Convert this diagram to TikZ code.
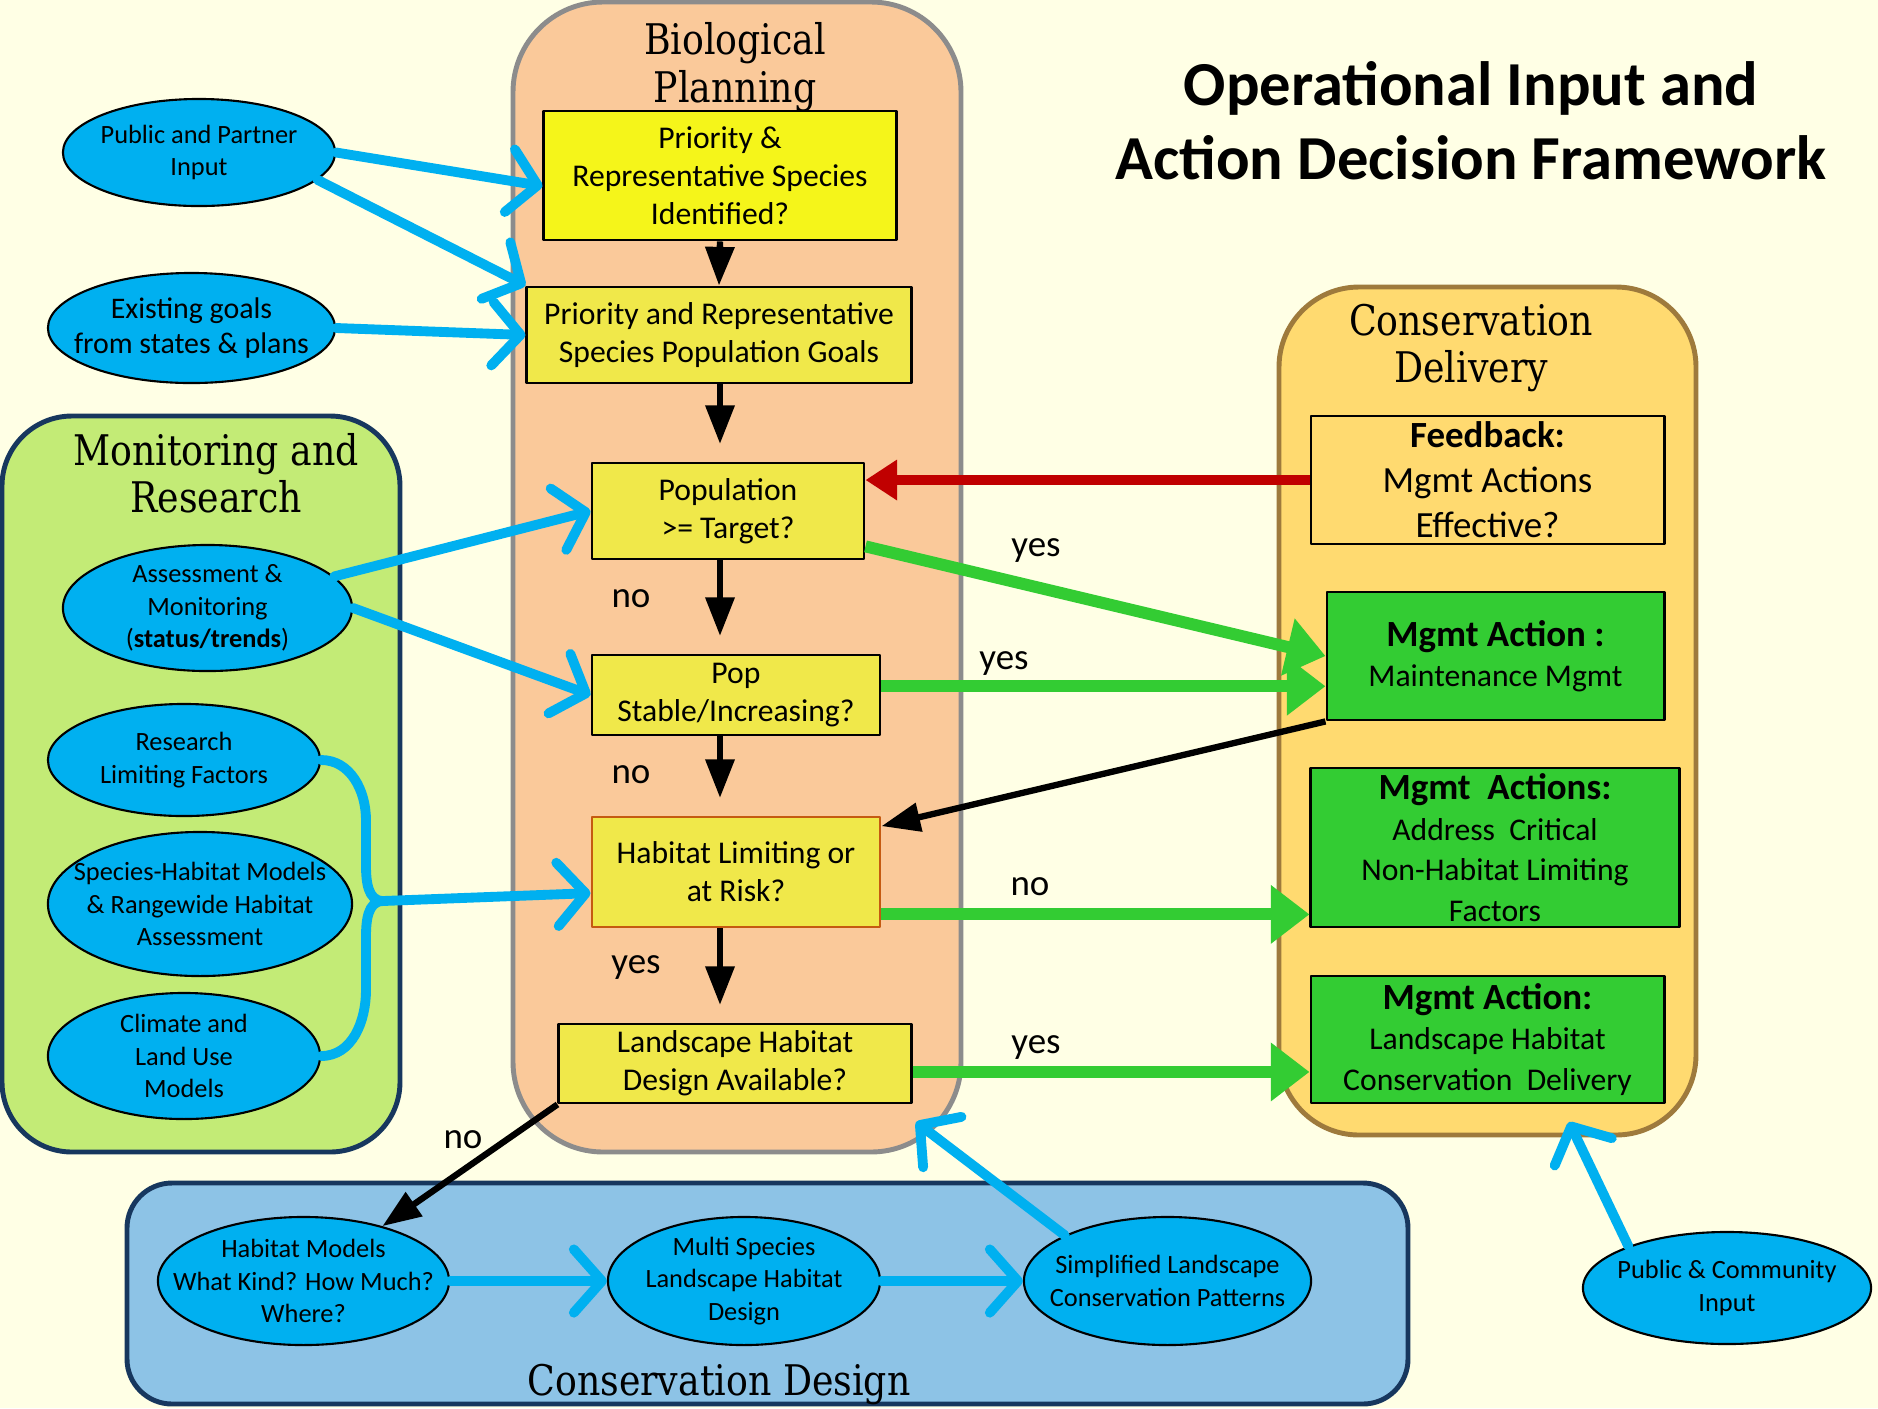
\documentclass[tikz,border=0pt]{standalone}
\usepackage{fontspec}
\setmainfont{Carlito}
\newfontfamily\slabfont[FakeStretch=0.86]{DejaVu Serif}
\usetikzlibrary{shapes.geometric,arrows.meta}
\begin{document}
\begin{tikzpicture}[x=0.01cm, y=-0.01cm, line join=round,
  qbox/.style={draw, line width=0.8pt, fill=qyellow, align=center, inner sep=0pt,
    font=\fontsize{9}{10.8}\selectfont},
  actbox/.style={draw, line width=0.8pt, fill=actgreen, align=center, inner sep=0pt,
    font=\fontsize{9}{11.5}\selectfont},
  oval/.style={ellipse, draw, line width=0.6pt, fill=ovalblue, align=center,
    inner xsep=-25pt, inner ysep=-8pt, font=\fontsize{7.5}{9.2}\selectfont},
  paneltitle/.style={align=center, font=\slabfont\fontsize{12}{13.5}\selectfont},
  answer/.style={font=\fontsize{10.5}{12}\selectfont},
  flow/.style={line width=1.8pt, -{Triangle[length=11pt,width=8pt]}},
  inarrow/.style={draw=ovalblue, line width=2.8pt, line cap=round,
    -{Straight Barb[length=8pt,width=18pt,round]}},
  bracearm/.style={draw=ovalblue, line width=2.8pt, line cap=round},
  fbarrow/.style={draw=fbred, line width=2.8pt, -{Triangle[length=9pt,width=11pt]}},
  actarrow/.style={draw=actgreen, line width=3.4pt, -{Triangle[length=11pt,width=16pt]}}]
  \definecolor{bgcream}{RGB}{255,255,229}
  \definecolor{bioorange}{RGB}{250,201,154}
  \definecolor{biogray}{RGB}{140,140,140}
  \definecolor{mongreen}{RGB}{195,235,118}
  \definecolor{navyline}{RGB}{23,55,94}
  \definecolor{delyellow}{RGB}{255,218,112}
  \definecolor{delbrown}{RGB}{158,122,60}
  \definecolor{desblue}{RGB}{141,195,230}
  \definecolor{qyellow}{RGB}{240,232,74}
  \definecolor{qbright}{RGB}{245,245,26}
  \definecolor{actgreen}{RGB}{51,204,51}
  \definecolor{ovalblue}{RGB}{0,176,240}
  \definecolor{fbred}{RGB}{192,0,0}
  \definecolor{riskorange}{RGB}{197,90,17}
  \useasboundingbox (0,0) rectangle (1878,1408);
  \fill[bgcream] (0,0) rectangle (1878,1408);
  \draw[fill=bioorange, draw=biogray, line width=1.4pt, rounded corners=0.9cm] (513,2) rectangle (961,1152);
  \draw[fill=mongreen, draw=navyline, line width=1.4pt, rounded corners=0.7cm] (2,416) rectangle (400,1152);
  \draw[fill=delyellow, draw=delbrown, line width=1.4pt, rounded corners=0.8cm] (1279,287) rectangle (1696,1135);
  \draw[fill=desblue, draw=navyline, line width=1.4pt, rounded corners=0.45cm] (127,1183) rectangle (1408,1404);
  \node[paneltitle] (biotitle) at (735,67) {Biological\\Planning};
  \node[paneltitle] (montitle) at (216,473) {Monitoring and\\Research};
  \node[paneltitle] (deltitle) at (1471,348) {Conservation\\Delivery};
  \node[paneltitle] (destitle) at (719,1385) {Conservation Design};
  \node[align=center, font=\bfseries\fontsize{17.8}{21}\selectfont] (maintitle) at (1471,121)
    {Operational Input and\\Action Decision Framework};
  \node[qbox, fill=qbright, minimum width=3.52cm, minimum height=1.29cm] (q1) at (720,175.5)
    {Priority \&\\Representative Species\\Identified?};
  \node[qbox, minimum width=3.84cm, minimum height=0.96cm] (q2) at (719,335)
    {Priority and Representative\\Species Population Goals};
  \node[qbox, minimum width=2.72cm, minimum height=0.96cm] (q3) at (728,511)
    {Population\\>= Target?};
  \node[qbox, minimum width=2.88cm, minimum height=0.80cm] (q4) at (736,695)
    {Pop\\Stable/Increasing?};
  \node[qbox, draw=riskorange, minimum width=2.88cm, minimum height=1.10cm] (q5) at (736,872)
    {Habitat Limiting or\\at Risk?};
  \node[qbox, minimum width=3.52cm, minimum height=0.79cm] (q6) at (735,1063.5)
    {Landscape Habitat\\Design Available?};
  \node[actbox, fill=delyellow, font=\fontsize{10.5}{12.8}\selectfont,
    minimum width=3.53cm, minimum height=1.28cm] (fb) at (1487.5,480)
    {\textbf{Feedback:}\\Mgmt Actions\\Effective?};
  \node[actbox, minimum width=3.37cm, minimum height=1.28cm] (m1) at (1495.5,656)
    {{\bfseries\fontsize{10.5}{12}\selectfont Mgmt Action :}\\Maintenance Mgmt};
  \node[actbox, minimum width=3.68cm, minimum height=1.59cm] (m2) at (1495,847.5)
    {{\bfseries\fontsize{10.5}{11.5}\selectfont Mgmt\ \ Actions:}\\Address\ \ Critical\\Non-Habitat Limiting\\Factors};
  \node[actbox, minimum width=3.53cm, minimum height=1.27cm] (m3) at (1487.5,1039.5)
    {{\bfseries\fontsize{10.5}{11.5}\selectfont Mgmt Action:}\\Landscape Habitat\\Conservation\ \ Delivery};
  \node[oval, minimum width=2.72cm, minimum height=1.07cm] (pubin) at (199,152.5)
    {Public and Partner\\Input};
  \node[oval, font=\fontsize{8.5}{9.9}\selectfont, minimum width=2.87cm, minimum height=1.10cm] (goals) at (191.5,328)
    {Existing goals\\from states \& plans};
  \node[oval, minimum width=2.89cm, minimum height=1.26cm] (assess) at (207.5,608)
    {Assessment \&\\Monitoring\\(\textbf{status/trends})};
  \node[oval, minimum width=2.72cm, minimum height=1.12cm] (research) at (184,760)
    {Research\\Limiting Factors};
  \node[oval, minimum width=3.04cm, minimum height=1.44cm] (sphab) at (200,904)
    {Species-Habitat Models\\\& Rangewide Habitat\\Assessment};
  \node[oval, minimum width=2.72cm, minimum height=1.26cm] (climate) at (184,1056)
    {Climate and\\Land Use\\Models};
  \node[oval, minimum width=2.91cm, minimum height=1.28cm] (habmod) at (303.5,1281)
    {Habitat Models\\What Kind? How Much?\\Where?};
  \node[oval, minimum width=2.72cm, minimum height=1.28cm] (multi) at (744,1281)
    {Multi Species\\Landscape Habitat\\Design};
  \node[oval, minimum width=2.87cm, minimum height=1.28cm] (simple) at (1167.5,1281)
    {Simplified Landscape\\Conservation Patterns};
  \node[oval, minimum width=2.88cm, minimum height=1.12cm] (pubcom) at (1727,1288)
    {Public \& Community\\Input};
  \coordinate (merge) at (383,901);
  \coordinate (braceup) at (366,820);
  \coordinate (bracedown) at (366,990);
  \coordinate (bioedge) at (916,1122);
  \coordinate (deledge) at (1569,1122);
  \draw[flow] (q1.south) -- (q2.north);
  \draw[flow, shorten >=5pt] (q2.south -| q1.south) -- (q3.north -| q1.south);
  \draw[flow, shorten >=5pt] (q3.south -| q1.south) -- (q4.north -| q1.south);
  \draw[flow, shorten >=5pt] (q4.south -| q1.south) -- (q5.north -| q1.south);
  \draw[flow, shorten >=5pt] (q5.south -| q1.south) -- (q6.north -| q1.south);
  \draw[flow] (q6.south west) -- (habmod);
  \draw[flow] (m1.south west) -- ([yshift=-3pt]q5.north east);
  \draw[fbarrow] (fb.west) -- (fb.west -| q3.east);
  \draw[actarrow] ([yshift=4pt]q3.south east) -- (m1.west);
  \draw[actarrow] ([yshift=2.5pt]q4.east) -- ([yshift=2.5pt]q4.east -| m1.west);
  \draw[actarrow] ([yshift=4pt]q5.south east) -- ([yshift=4pt]q5.south east -| m2.west);
  \draw[actarrow] ([yshift=-2.4pt]q6.east) -- ([yshift=-2.4pt]q6.east -| m3.west);
  \draw[inarrow] (pubin.east) -- ([yshift=-3pt]q1.west);
  \draw[inarrow] (pubin.-13) -- (q2.north west);
  \draw[inarrow] (goals.east) -- (q2.west);
  \draw[inarrow] (assess.14) -- (q3.west);
  \draw[inarrow] (assess.east) -- (q4.west);
  \draw[bracearm] (research.east) to[out=0,in=90] (braceup) -- (366,865) to[out=-90,in=180] (merge);
  \draw[bracearm] (climate.east) to[out=0,in=-90] (bracedown) -- (366,937) to[out=90,in=180] (merge);
  \draw[inarrow] (merge) -- ([yshift=-6pt]q5.west);
  \draw[inarrow] (habmod.east) -- (multi.west);
  \draw[inarrow] (multi.east) -- (simple.west);
  \draw[inarrow] (simple.156) -- (bioedge);
  \draw[inarrow] (pubcom.157) -- (deledge);
  \node[answer] (yes1) at (1036,551) {yes};
  \node[answer] (yes2) at (1004,664) {yes};
  \node[answer] (no1) at (631,599) {no};
  \node[answer] (no2) at (631,775) {no};
  \node[answer] (no3) at (1030,887) {no};
  \node[answer] (yes3) at (636,968) {yes};
  \node[answer] (yes4) at (1036,1048) {yes};
  \node[answer] (no4) at (463,1140) {no};
\end{tikzpicture}
\end{document}
